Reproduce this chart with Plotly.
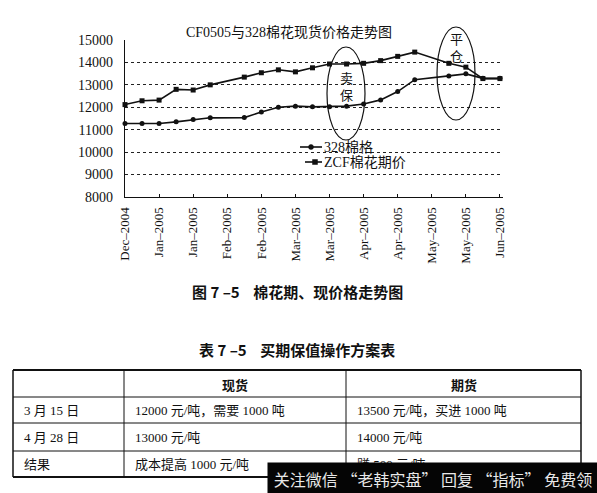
import plotly.graph_objects as go
import pandas as pd

# ---- data ---------------------------------------------------------------
week_dates = ["2004-12-31", "2005-01-07", "2005-01-14", "2005-01-21", "2005-01-28",
              "2005-02-04", "2005-02-18", "2005-02-25", "2005-03-04", "2005-03-11",
              "2005-03-18", "2005-03-25", "2005-04-01", "2005-04-08", "2005-04-15",
              "2005-04-22", "2005-04-29", "2005-05-13", "2005-05-20", "2005-05-27",
              "2005-06-03"]
spot_328 = [11280, 11280, 11280, 11350, 11450, 11530, 11540, 11790, 12000, 12050,
            12020, 12020, 12050, 12150, 12330, 12700, 13230, 13400, 13490, 13290,
            13290]
zcf_futures = [12120, 12290, 12320, 12800, 12770, 13000, 13345, 13540, 13670, 13580,
               13760, 13930, 13930, 13960, 14080, 14270, 14460, 13960, 13790, 13280,
               13280]
series_names = ["328棉格", "ZCF棉花期价"]
tick_labels = ["Dec–2004", "Jan–2005", "Jan–2005", "Feb–2005", "Feb–2005", "Mar–2005",
               "Mar–2005", "Apr–2005", "Apr–2005", "May–2005", "May–2005", "Jun–2005"]
tick_dates = pd.date_range("2004-12-31", periods=len(tick_labels), freq="14D")

chart_title = "CF0505与328棉花现货价格走势图"
figure_caption = "图 7 –5\u00a0\u00a0\u00a0\u00a0棉花期、现价格走势图"
table_caption = "表 7 –5\u00a0\u00a0\u00a0\u00a0买期保值操作方案表"
table_header = ["", "现货", "期货"]
table_rows = [
    ["3 月 15 日", "12000 元/吨，需要 1000 吨", "13500 元/吨，买进 1000 吨"],
    ["4 月 28 日", "13000 元/吨", "14000 元/吨"],
    ["结果", "成本提高 1000 元/吨", "赚 500 元/吨"],
]
banner_text = "关注微信 “老韩实盘” 回复 “指标” 免费领"

# ---- page geometry (pixels) ---------------------------------------------
W, H = 597, 493
L, R, T, B = 125, 503, 40, 197


def px(x):
    return (x - L) / (R - L)


def py(y):
    return (B - y) / (B - T)


SERIF = "Liberation Serif, Noto Sans CJK SC"
CJK = "Noto Sans CJK SC"
INK = "#111111"

fig = go.Figure()
fig.add_trace(go.Scatter(
    x=week_dates, y=spot_328, name=series_names[0], mode="lines+markers",
    line=dict(color=INK, width=1.6),
    marker=dict(symbol="circle", size=5, color=INK),
    cliponaxis=False, showlegend=False))
fig.add_trace(go.Scatter(
    x=week_dates, y=zcf_futures, name=series_names[1], mode="lines+markers",
    line=dict(color=INK, width=1.6),
    marker=dict(symbol="square", size=5, color=INK),
    cliponaxis=False, showlegend=False))

shapes = []
annotations = []


def text(x, y, s, size=13, family=SERIF, xanchor="center", color=INK):
    annotations.append(dict(
        x=px(x), y=py(y), xref="paper", yref="paper", text=s, showarrow=False,
        xanchor=xanchor, yanchor="middle",
        font=dict(family=family, size=size, color=color)))


def hline(x0, x1, y, w=1.0):
    shapes.append(dict(type="line", xref="paper", yref="paper",
                       x0=px(x0), x1=px(x1), y0=py(y), y1=py(y),
                       line=dict(color=INK, width=w)))


def vline(x, y0, y1, w=1.0):
    shapes.append(dict(type="line", xref="paper", yref="paper",
                       x0=px(x), x1=px(x), y0=py(y0), y1=py(y1),
                       line=dict(color=INK, width=w)))


# chart title
text(289, 32, chart_title, size=14)

# highlighted hedge periods, each with a vertical two-character label
for (x0, y0, x1, y1) in [(327, 47, 365, 140), (437, 27, 475, 120)]:
    shapes.append(dict(type="circle", xref="paper", yref="paper",
                       x0=px(x0), x1=px(x1), y0=py(y0), y1=py(y1),
                       line=dict(color=INK, width=1.2)))
text(346, 86, "卖<br>保", size=13, family=CJK)
text(456, 47, "平<br>仓", size=13, family=CJK)

# legend
hline(300, 322, 147, 1.6)
shapes.append(dict(type="circle", xref="paper", yref="paper",
                   x0=px(308.5), x1=px(313.5), y0=py(144.5), y1=py(149.5),
                   fillcolor=INK, line=dict(color=INK, width=0.5)))
text(322, 147, series_names[0], size=14, xanchor="left")
hline(305, 322, 162, 1.6)
shapes.append(dict(type="rect", xref="paper", yref="paper",
                   x0=px(312.5), x1=px(317.5), y0=py(159.5), y1=py(164.5),
                   fillcolor=INK, line=dict(color=INK, width=0.5)))
text(322, 162, series_names[1], size=14, xanchor="left")

# captions
text(297, 291, "<b>" + figure_caption + "</b>", size=15, family=CJK)
text(297, 349, "<b>" + table_caption + "</b>", size=15, family=CJK)

# table grid
tx = [13, 124, 346, 581]
ty = [370, 397, 423, 451, 477]
for i, y in enumerate(ty):
    hline(tx[0], tx[-1], y, 1.8 if i in (0, len(ty) - 1) else 1.0)
for i, x in enumerate(tx):
    vline(x, ty[0], ty[-1], 1.5 if i in (0, len(tx) - 1) else 1.0)

# table header and cells
text((tx[1] + tx[2]) / 2, 384, "<b>" + table_header[1] + "</b>", size=13, family=CJK)
text((tx[2] + tx[3]) / 2, 384, "<b>" + table_header[2] + "</b>", size=13, family=CJK)
row_y = [410, 437, 464]
for r, row in enumerate(table_rows):
    text(22, row_y[r], row[0], size=13, xanchor="left")
    text(133, row_y[r], row[1], size=13, xanchor="left")
    text(355, row_y[r], row[2], size=13, xanchor="left")

# banner at the bottom right
annotations.append(dict(
    x=px(267), y=py(462), xref="paper", yref="paper", text=banner_text,
    showarrow=False, xanchor="left", yanchor="top", width=330, height=31,
    bgcolor="#050505", borderpad=0, align="center", valign="middle",
    font=dict(family=CJK, size=16, color="#e8e8e8")))

fig.update_layout(
    template="none",
    width=W, height=H,
    margin=dict(l=L, r=W - R, t=T, b=H - B, autoexpand=False),
    paper_bgcolor="white", plot_bgcolor="white",
    showlegend=False,
    xaxis=dict(
        type="date", range=["2004-12-31", "2005-06-04 06:00"],
        tickmode="array", tickvals=tick_dates, ticktext=tick_labels,
        tickangle=-90, ticks="inside", ticklen=3, tickcolor=INK, tickwidth=1,
        showline=True, linecolor=INK, linewidth=1.2, showgrid=False,
        zeroline=False, automargin=False, ticklabelstandoff=4,
        tickfont=dict(family=SERIF, size=13, color=INK)),
    yaxis=dict(
        range=[8000, 15000], tick0=8000, dtick=1000, tickformat="d",
        showgrid=True, gridcolor="#222222", griddash="dot", gridwidth=1,
        showline=True, linecolor=INK, linewidth=1.2, ticks="",
        zeroline=False, automargin=False, ticklabelstandoff=8,
        tickfont=dict(family=SERIF, size=14, color=INK)),
    shapes=shapes,
    annotations=annotations,
)

fig.write_html("out.html")
